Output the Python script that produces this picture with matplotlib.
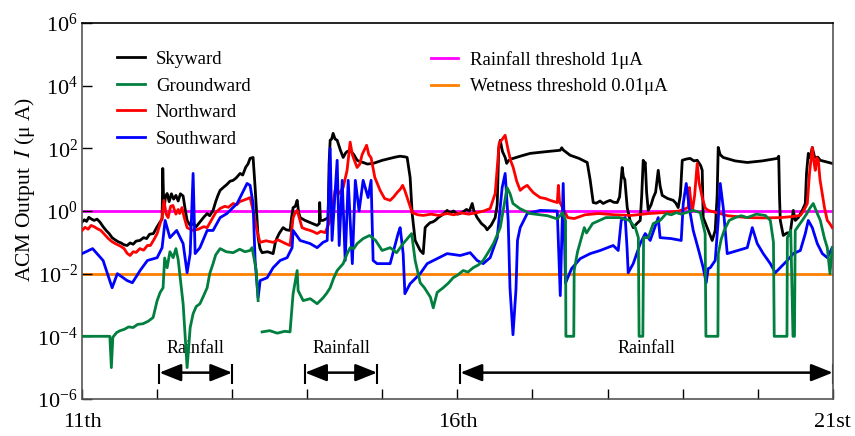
import matplotlib
matplotlib.use("Agg")
import matplotlib.pyplot as plt
from matplotlib.lines import Line2D
import numpy as np

plt.rcParams['font.family'] = ['Liberation Serif', 'DejaVu Serif']
plt.rcParams['mathtext.fontset'] = 'stix'

# time in days of the month, current as log10(I / uA)
sky_t = [11.0, 11.03, 11.06, 11.09, 11.12, 11.16, 11.2, 11.24, 11.28, 11.32, 11.36, 11.4, 11.44, 11.48,
         11.52, 11.56, 11.6, 11.64, 11.68, 11.72, 11.77, 11.82, 11.86, 11.9, 11.95, 12.0, 12.04,
         12.066, 12.075, 12.09, 12.11, 12.133, 12.16, 12.19, 12.22, 12.25, 12.28, 12.31, 12.346,
         12.37, 12.399, 12.44, 12.48, 12.52, 12.57, 12.62, 12.666, 12.7, 12.745, 12.78, 12.81,
         12.839, 12.88, 12.93, 12.97, 13.012, 13.05, 13.105, 13.14, 13.18, 13.21, 13.238, 13.278,
         13.305, 13.345, 13.37, 13.398, 13.47, 13.545, 13.575, 13.598, 13.63, 13.678, 13.72,
         13.771, 13.791, 13.811, 13.84, 13.865, 13.885, 13.905, 13.97, 14.038, 14.09, 14.131,
         14.16, 14.165, 14.175, 14.211, 14.25, 14.278, 14.29, 14.305, 14.325, 14.344, 14.37,
         14.398, 14.44, 14.478, 14.51, 14.531, 14.571, 14.62, 14.664, 14.7, 14.744, 14.8, 14.877,
         15.0, 15.104, 15.17, 15.237, 15.3, 15.33, 15.37, 15.397, 15.437, 15.47, 15.504, 15.544,
         15.57, 15.6, 15.637, 15.67, 15.704, 15.75, 15.8, 15.863, 15.9, 15.95, 16.0, 16.037,
         16.08, 16.12, 16.16, 16.197, 16.22, 16.263, 16.32, 16.37, 16.396, 16.45, 16.503, 16.53,
         16.55, 16.57, 16.6, 16.636, 16.656, 16.676, 16.71, 16.743, 16.85, 16.969, 17.2, 17.369,
         17.39, 17.409, 17.502, 17.62, 17.729, 17.769, 17.809, 17.85, 17.9, 17.942, 17.99, 18.035,
         18.08, 18.129, 18.16, 18.18, 18.195, 18.21, 18.23, 18.262, 18.3, 18.342, 18.39, 18.435,
         18.455, 18.475, 18.49, 18.502, 18.52, 18.542, 18.58, 18.609, 18.64, 18.675, 18.7, 18.728,
         18.8, 18.875, 18.91, 18.941, 18.97, 18.995, 19.05, 19.101, 19.15, 19.194, 19.24, 19.261,
         19.274, 19.341, 19.394, 19.434, 19.46, 19.474, 19.5, 19.541, 19.7, 19.861, 20.06, 20.261,
         20.28, 20.29, 20.301, 20.341, 20.39, 20.434, 20.474, 20.5, 20.541, 20.59, 20.634, 20.65,
         20.674, 20.7, 20.727, 20.76, 20.8, 20.834, 20.9, 20.993]
sky_v = [-0.35, -0.28, -0.33, -0.2, -0.25, -0.3, -0.26, -0.36, -0.5, -0.62, -0.72, -0.85, -0.92, -0.98,
         -1.02, -1.08, -1.1, -1.02, -1.06, -0.96, -0.94, -0.85, -0.88, -0.74, -0.72, -0.5, -0.35,
         -0.25, 1.36, 0.0, 0.45, 0.56, 0.3, 0.55, 0.38, 0.5, 0.32, 0.55, 0.48,
         0.1, -0.3, -0.46, -0.4, -0.5, -0.35, -0.2, -0.08, -0.15, 0.02, 0.3, 0.5,
         0.66, 0.75, 0.85, 0.95, 0.98, 1.05, 1.2, 1.15, 1.4, 1.5, 1.68, 1.71,
         0.75, -0.85, -1.2, -1.33, -1.3, -1.36, -1.0, -0.85, -0.7, -0.53, -0.6,
         -0.62, -0.2, 0.11, 0.15, 0.34, -0.05, -0.21, -0.3, -0.37, -0.42, -0.46,
         -0.4, 0.27, -0.3, -0.3, -0.25, -0.21, 1.5, 2.26, 2.3, 2.48, 2.3,
         2.26, 1.95, 1.71, 1.85, 1.9, 1.94, 1.8, 1.62, 1.58, 1.55, 1.5, 1.52,
         1.62, 1.68, 1.72, 1.75, 1.73, 1.71, 1.07, -0.08, -0.94, -1.1, -1.26, -1.36,
         -0.53, -0.45, -0.37, -0.35, -0.3, -0.2, -0.12, 0.02, -0.05, 0.0, -0.1, -0.08,
         -0.02, 0.05, 0.0, 0.24, 0.0, -0.21, -0.4, -0.5, -0.6, -0.45, -0.21, 0.2,
         2.0, 2.26, 1.9, 1.71, 1.52, 1.6, 1.66, 1.68, 1.76, 1.84, 1.9, 1.94,
         2.02, 1.95, 1.78, 1.68, 1.55, 0.98, 0.27, 0.25, 0.32, 0.24, 0.3, 0.34,
         0.28, 0.27, 0.45, 1.0, 1.39, 1.1, 1.0, 0.11, -0.3, -0.53, -0.4, -0.3,
         0.5, 1.62, 1.5, 1.55, 0.6, 0.02, 0.2, 0.43, 0.6, 1.3, 0.8, 0.5,
         0.4, 0.34, 0.25, 0.11, 0.5, 1.62, 1.66, 1.68, 1.6, 1.62, 1.45, 1.3,
         -0.21, -0.62, -0.94, -0.62, 0.5, 2.03, 1.8, 1.71, 1.6, 1.55, 1.6, 1.68,
         1.75, 0.5, -0.3, -0.78, -0.7, -0.69, 0.02, -0.3, -0.21, 0.0, 0.24, 1.2,
         1.84, 1.7, 2.03, 1.7, 1.72, 1.62, 1.58, 1.52]

ground_t = [11.0, 11.37, 11.39, 11.41, 11.46, 11.506, 11.56, 11.62, 11.68, 11.74, 11.81, 11.88, 11.946,
            12.0, 12.04, 12.079, 12.1, 12.133, 12.17, 12.213, 12.25, 12.28, 12.346, 12.399, 12.44,
            12.479, 12.52, 12.57, 12.62, 12.666, 12.7, 12.745, 12.78, 12.839, 12.92, 13.012, 13.1,
            13.17, 13.238, 13.265, 13.32, 13.345, 13.37, 13.398, 13.5, 13.6, 13.7, 13.77, 13.811,
            13.865, 13.878, 13.945, 14.04, 14.131, 14.211, 14.26, 14.305, 14.35, 14.398, 14.478,
            14.531, 14.571, 14.62, 14.664, 14.744, 14.83, 14.91, 14.997, 15.104, 15.19, 15.277,
            15.39, 15.437, 15.504, 15.56, 15.6, 15.64, 15.678, 15.73, 15.81, 15.88, 15.943, 16.0,
            16.077, 16.14, 16.21, 16.28, 16.343, 16.4, 16.48, 16.57, 16.63, 16.66, 16.7, 16.74,
            16.83, 16.97, 17.1, 17.2, 17.33, 17.4, 17.44, 17.445, 17.55, 17.555, 17.6, 17.63,
            17.69, 17.72, 17.8, 17.976, 18.16, 18.29, 18.37, 18.41, 18.42, 18.47, 18.48, 18.542,
            18.609, 18.7, 18.782, 18.85, 18.915, 18.98, 19.048, 19.141, 19.234, 19.3, 19.31, 19.47,
            19.475, 19.514, 19.554, 19.62, 19.7, 19.78, 19.861, 19.98, 20.101, 20.168, 20.21,
            20.22, 20.39, 20.395, 20.44, 20.47, 20.49, 20.5, 20.594, 20.65, 20.7, 20.74, 20.794,
            20.834, 20.887, 20.927, 20.963, 20.993]
ground_v = [-4.0, -4.0, -5.0, -4.03, -3.88, -3.82, -3.78, -3.7, -3.72, -3.62, -3.6, -3.52, -3.4,
            -2.86, -2.6, -2.45, -1.5, -1.81, -1.3, -1.49, -1.2, -1.55, -2.96, -5.0, -3.72,
            -3.28, -3.05, -2.96, -2.7, -2.45, -2.0, -1.68, -1.4, -1.2, -1.3, -1.33, -1.22,
            -1.3, -1.26, -1.17, -1.9, -2.86, np.nan, -3.86, -3.82, -3.9, -3.84, -3.86, -2.64,
            -1.9, -2.54, -2.86, -2.8, -2.96, -2.77, -2.62, -2.45, -2.15, -1.9, -1.68,
            -1.36, -1.17, -1.2, -1.04, -0.88, -0.78, -0.94, -1.26, -1.17, -1.33, -1.04,
            -0.72, -1.58, -2.29, -2.45, -2.6, -2.75, -3.09, -2.6, -2.45, -2.3, -2.13, -2.05,
            -1.9, -1.95, -1.81, -1.72, -1.58, -1.36, -1.04, -0.53, 0.3, 0.75, 0.56, 0.24,
            0.08, -0.08, -0.12, -0.15, -0.25, -0.05, -0.3, -4.0, -4.0, -1.9, -1.3, -1.04,
            -0.53, -0.7, -0.4, -0.21, -0.21, -0.3, -0.53, -0.85, -4.0, -4.0, -0.85, -0.85,
            -0.4, -0.3, -0.08, -0.12, -0.05, -0.1, -0.05, 0.02, -0.05, -0.72, -4.0, -4.0,
            -1.36, -0.9, -0.62, -0.3, -0.21, -0.15, -0.21, -0.1, -0.14, -0.3, -1.0,
            -4.0, -4.0, -0.85, -0.62, -4.0, -4.0, -0.62, -0.3, -0.1, 0.11, 0.24, -0.08,
            -0.3, -0.85, -1.17, -2.0, -1.17]

north_t = [11.0, 11.04, 11.08, 11.12, 11.16, 11.2, 11.25, 11.3, 11.35, 11.4, 11.45, 11.51, 11.56, 11.6,
           11.64, 11.68, 11.72, 11.77, 11.82, 11.87, 11.91, 11.96, 12.0, 12.04, 12.066, 12.09, 12.12,
           12.146, 12.18, 12.21, 12.25, 12.28, 12.3, 12.33, 12.36, 12.399, 12.44, 12.479, 12.55,
           12.62, 12.666, 12.72, 12.78, 12.839, 12.9, 12.95, 13.012, 13.06, 13.1, 13.145, 13.19,
           13.238, 13.278, 13.33, 13.37, 13.45, 13.545, 13.61, 13.678, 13.72, 13.771, 13.811, 13.84,
           13.865, 13.93, 13.98, 14.038, 14.08, 14.131, 14.18, 14.238, 14.305, 14.34, 14.37, 14.42,
           14.478, 14.53, 14.571, 14.6, 14.63, 14.664, 14.7, 14.73, 14.79, 14.82, 14.85, 14.9,
           14.97, 15.03, 15.104, 15.15, 15.2, 15.24, 15.27, 15.3, 15.33, 15.397, 15.47, 15.544,
           15.65, 15.75, 15.863, 15.95, 16.05, 16.15, 16.263, 16.35, 16.436, 16.503, 16.556, 16.6,
           16.636, 16.676, 16.71, 16.743, 16.79, 16.836, 16.88, 16.93, 16.97, 17.01, 17.06, 17.103,
           17.17, 17.236, 17.29, 17.33, 17.345, 17.36, 17.4, 17.47, 17.556, 17.7, 17.876, 18.1,
           18.315, 18.55, 18.755, 18.95, 19.075, 19.09, 19.11, 19.13, 19.16, 19.194, 19.22, 19.261,
           19.3, 19.341, 19.6, 19.861, 20.08, 20.301, 20.45, 20.568, 20.61, 20.661, 20.69, 20.727,
           20.747, 20.767, 20.787, 20.807, 20.83, 20.86, 20.89, 20.927, 20.96, 20.993]
north_v = [-0.62, -0.52, -0.58, -0.46, -0.5, -0.56, -0.62, -0.75, -0.88, -0.98, -1.05, -1.12, -1.2, -1.35,
           -1.42, -1.3, -1.32, -1.2, -1.25, -1.1, -1.1, -0.9, -0.72, -0.4, -0.21, 0.34, -0.1,
           -0.21, 0.15, 0.18, -0.1, 0.05, -0.08, 0.11, -0.2, -0.53, -0.58, -0.62, -0.58,
           -0.5, -0.53, -0.3, -0.05, 0.08, 0.15, 0.12, 0.24, 0.2, 0.3, 0.34, 0.38,
           0.43, 0.02, -0.62, -1.0, -0.95, -1.0, -0.92, -1.0, -1.05, -1.1, -0.21, -0.05,
           0.02, -0.53, -0.58, -0.62, -0.66, -0.72, -0.65, -0.69, -0.3, 0.2, 0.66, 0.55,
           0.75, 1.3, 2.2, 1.8, 1.6, 1.39, 1.5, 1.8, 2.1, 1.8, 1.7, 1.07,
           0.66, 0.4, 0.34, 0.45, 0.6, 0.7, 0.82, 0.65, 0.43, -0.05, -0.12, -0.14,
           -0.1, -0.14, -0.08, -0.12, -0.06, -0.1, -0.05, 0.0, 0.08, 0.56, 2.16, 2.3,
           2.42, 1.94, 1.6, 1.39, 0.95, 0.66, 0.75, 0.82, 0.7, 0.59, 0.5, 0.43,
           0.4, 0.34, 0.3, 0.27, 0.82, 0.3, 0.11, -0.21, -0.24, -0.12, -0.08, -0.12,
           -0.14, -0.08, -0.05, 0.0, 0.11, 0.75, 0.3, 0.0, 0.5, 1.52, 0.9, 0.43,
           0.1, 0.02, -0.15, -0.21, -0.22, -0.21, -0.18, -0.14, 0.0, 0.24, 1.2, 2.03,
           1.6, 1.3, 1.7, 1.62, 1.0, 0.56, 0.1, -0.3, -0.4, -0.53]

south_t = [11.0, 11.14, 11.28, 11.40, 11.47, 11.60, 11.67, 11.773, 11.87, 12.0, 12.066, 12.106,
           12.17, 12.26, 12.346, 12.399, 12.44, 12.479, 12.506, 12.57, 12.666, 12.745, 12.839,
           12.93, 13.065, 13.198, 13.238, 13.278, 13.305, 13.345, 13.372, 13.465, 13.545, 13.638,
           13.731, 13.798, 13.811, 13.905, 14.038, 14.131, 14.211, 14.265, 14.305, 14.33, 14.398,
           14.425, 14.465, 14.505, 14.545, 14.60, 14.64, 14.69, 14.744, 14.81, 14.85, 14.877,
           14.93, 15.104, 15.21, 15.237, 15.277, 15.30, 15.37, 15.504, 15.597, 15.73, 15.863,
           16.037, 16.17, 16.263, 16.343, 16.436, 16.53, 16.596, 16.636, 16.676, 16.70, 16.74,
           16.78, 16.80, 16.836, 16.93, 17.103, 17.33, 17.37, 17.409, 17.44, 17.52, 17.636,
           17.769, 17.902, 18.075, 18.142, 18.182, 18.235, 18.26, 18.275, 18.342, 18.435, 18.502,
           18.568, 18.675, 18.70, 18.848, 18.981, 19.008, 19.048, 19.088, 19.141, 19.214, 19.274,
           19.314, 19.34, 19.368, 19.434, 19.474, 19.501, 19.541, 19.594, 19.861, 19.928, 19.994,
           20.074, 20.168, 20.234, 20.394, 20.474, 20.568, 20.634, 20.674, 20.727, 20.794, 20.861,
           20.927, 20.993]
south_v = [-1.36, -1.20, -1.58, -2.45, -2.0, -2.22, -2.29, -1.90, -1.58, -1.49, -1.17, -0.30,
           -0.85, -0.62, -1.04, -1.97, -1.36, 1.20, -1.36, -1.17, -0.62, -0.62, -0.21,
           -0.08, 0.24, 0.88, 0.82, 0.24, -1.58, -2.77, -2.22, -2.13, -1.81, -1.58,
           -1.49, -1.17, -0.62, -0.94, -1.04, -1.17, -1.0, -0.94, 2.0, -0.94, 1.62,
           -1.10, 0.98, -1.58, 0.98, -1.68, 0.98, 0.0, 0.98, 0.43, 0.98, -1.58,
           -1.68, -1.68, -0.72, -0.53, -1.36, -2.64, -2.32, -2.0, -1.68, -1.52, -1.36,
           -1.42, -1.33, -1.58, -1.68, -1.49, -0.85, 0.75, 1.20, -0.30, -2.45, -3.95,
           -2.5, -0.94, -0.53, -0.08, 0.02, 0.0, -2.7, 0.88, -2.3, -1.84, -1.52,
           -1.36, -1.26, -1.10, -1.26, -0.30, -0.21, -1.2, -1.97, -1.68, -1.04, -0.72,
           -0.94, -0.21, -0.85, -0.88, -0.94, 0.24, 0.88, 0.11, -0.62, -1.26, -1.81,
           -2.29, -1.84, -1.81, -1.58, -0.30, 0.88, 0.11, -1.36, -1.17, -0.53, -1.04,
           -1.36, -1.68, -1.97, -1.58, -1.36, -1.26, -0.72, -0.30, -0.53, -1.04, -1.36,
           -1.49, -1.17]

rain_threshold = 1.0
wet_threshold = 0.01
rain_start = [12.03, 13.97, 16.04]
rain_end = [13.0, 14.93, 21.0]

fig = plt.figure(figsize=(8.55, 4.36), dpi=100)
ax = fig.add_axes([0.096, 0.085, 0.878, 0.862])

ax.axhline(rain_threshold, color='#ff00ff', lw=2.0, zorder=1)
ax.axhline(wet_threshold, color='#ff8000', lw=2.0, zorder=1)

ax.plot(sky_t, 10 ** np.array(sky_v), color='black', lw=2.0, zorder=2)
ax.plot(north_t, 10 ** np.array(north_v), color='#ff0000', lw=2.0, zorder=3)
ax.plot(south_t, 10 ** np.array(south_v), color='#0000ff', lw=2.0, zorder=4)
ax.plot(ground_t, 10 ** np.array(ground_v, dtype=float), color='#007f3f', lw=2.0, zorder=5)

ax.set_yscale('log')
ax.set_ylim(1e-6, 1e6)
ax.set_xlim(11, 21)
ax.set_yticks([1e-6, 1e-4, 1e-2, 1e0, 1e2, 1e4, 1e6])
ax.yaxis.set_minor_locator(matplotlib.ticker.NullLocator())
ax.set_xticks(range(11, 22))
ax.set_xticklabels(['11th', '', '', '', '', '16th', '', '', '', '', '21st'])
ax.tick_params(axis='both', direction='in', length=7, width=1, labelsize=16)
ax.tick_params(axis='x', pad=10)
ax.tick_params(axis='y', pad=3)
for s in ax.spines.values():
    s.set_color('#555555')
    s.set_linewidth(1.2)
ax.spines['top'].set_color('black')

fig.text(25 / 855, 1 - 189 / 436, r'ACM Output  $I$ (μ A)', rotation=90,
         ha='center', va='center', fontsize=15.5)

# rainfall periods
for a, b in zip(rain_start, rain_end):
    ax.annotate('', xy=(a, 10 ** -5.16), xytext=(b, 10 ** -5.16),
                arrowprops=dict(arrowstyle='<|-|>,head_length=0.55,head_width=0.22',
                                mutation_scale=24, color='black', lw=1.8,
                                shrinkA=0, shrinkB=0))
    ax.vlines([a, b], 10 ** -5.52, 10 ** -4.88, color='black', lw=1.5)
    ax.text((a + b) / 2, 10 ** -4.4, 'Rainfall', ha='center', va='center', fontsize=13)

h1 = [Line2D([], [], color=c, lw=2.0) for c in ['black', '#007f3f', '#ff0000', '#0000ff']]
leg1 = ax.legend(h1, ['Skyward', 'Groundward', 'Northward', 'Southward'],
                 loc='upper left', bbox_to_anchor=(0.047, 0.926), frameon=False,
                 fontsize=13.5, handlelength=1.45, handletextpad=0.6, labelspacing=0.5,
                 borderaxespad=0, borderpad=0)
ax.add_artist(leg1)
h2 = [Line2D([], [], color=c, lw=2.0) for c in ['#ff00ff', '#ff8000']]
ax.legend(h2, ['Rainfall threshold 1μA', 'Wetness threshold 0.01μA'],
          loc='upper left', bbox_to_anchor=(0.465, 0.926), frameon=False,
          fontsize=13.5, handlelength=1.45, handletextpad=0.6, labelspacing=0.5,
          borderaxespad=0, borderpad=0)

fig.savefig('out.png', dpi=100)
